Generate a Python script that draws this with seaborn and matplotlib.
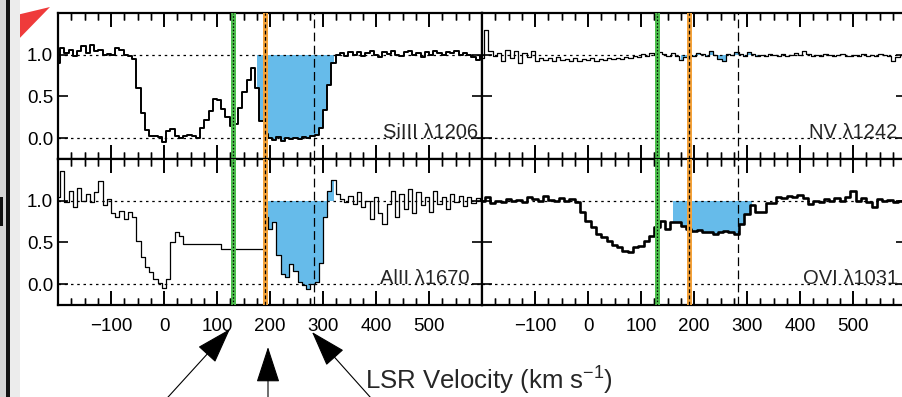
import numpy as np
import matplotlib
matplotlib.use("Agg")
import matplotlib.pyplot as plt
from matplotlib.patches import FancyArrowPatch, Polygon, Rectangle
from matplotlib.ticker import MultipleLocator, FixedLocator, FuncFormatter
import seaborn as sns

sns.set_style("ticks")
plt.rcParams.update({
    "font.family": ["Liberation Sans", "DejaVu Sans"],
    "mathtext.fontset": "custom",
    "mathtext.rm": "Liberation Sans",
    "mathtext.it": "Liberation Sans:italic",
    "xtick.direction": "in", "ytick.direction": "in",
    "xtick.top": True, "xtick.bottom": True,
    "ytick.left": True, "ytick.right": True,
    "xtick.major.size": 10, "xtick.minor.size": 5,
    "xtick.major.width": 1.2, "xtick.minor.width": 1.0,
    "ytick.major.size": 7, "ytick.major.width": 1.2,
    "xtick.color": "black", "ytick.color": "black",
    "xtick.labelsize": 13.5, "ytick.labelsize": 13.5,
    "xtick.major.pad": 9.5, "ytick.major.pad": 3.5,
    "axes.linewidth": 1.6, "axes.edgecolor": "black",
})

# ---------------------------------------------------------------- data
# velocity grids (km/s, LSR)
vel_fine = np.arange(-200, 601, 8)
vel_ovi = np.arange(-200, 601, 10)

# normalised flux, SiIII 1206
flux_si3 = [
    0.90, 1.08, 1.02, 1.06, 0.98, 1.04, 1.10, 1.02, 1.12, 1.04,
    1.06, 1.00, 1.01, 1.00, 1.08, 1.06, 1.00, 0.98, 0.95, 0.60,
    0.30, 0.10, 0.03, 0.02, 0.01, -0.05, 0.08, 0.11, 0.02, 0.00,
    0.02, 0.04, 0.03, 0.00, 0.12, 0.22, 0.33, 0.47, 0.46, 0.35,
    0.25, 0.15, 0.17, 0.36, 0.55, 0.70, 0.84, 0.60, 0.20, 0.05,
    0.00, -0.02, 0.01, -0.03, 0.00, -0.01, 0.00, -0.01, 0.01, 0.00,
    0.02, 0.04, 0.12, 0.34, 0.64, 0.90, 1.00, 1.02, 0.98, 1.03,
    1.00, 1.03, 0.99, 1.02, 1.04, 1.00, 0.97, 1.03, 1.01, 1.04,
    1.00, 0.99, 1.03, 1.05, 1.00, 1.02, 0.97, 1.03, 1.00, 1.04,
    1.02, 1.00, 1.03, 1.02, 1.05, 1.00, 1.02, 1.00, 0.97, 0.94,
    0.98,
]

# normalised flux, NV 1242
flux_n5 = [
    0.96, 1.30, 1.05, 0.98, 1.02, 0.92, 1.06, 0.96, 1.04, 0.90,
    1.02, 0.97, 1.04, 0.92, 0.96, 0.94, 0.96, 0.93, 0.97, 0.94,
    0.95, 0.92, 0.96, 0.93, 0.95, 0.94, 0.96, 0.93, 0.95, 0.94,
    0.96, 0.95, 0.96, 0.95, 0.97, 0.96, 0.98, 0.97, 1.01, 0.99,
    1.02, 1.00, 1.03, 1.01, 0.99, 1.02, 0.98, 0.94, 0.97, 1.00,
    0.98, 1.02, 1.01, 0.99, 1.04, 1.00, 0.95, 0.93, 1.01, 1.00,
    1.03, 1.01, 0.98, 1.03, 1.01, 0.98, 1.00, 0.99, 1.01, 1.00,
    0.98, 1.01, 0.99, 1.00, 1.02, 1.00, 1.04, 1.01, 0.99, 1.00,
    0.98, 1.01, 1.00, 0.98, 1.00, 1.01, 0.99, 0.98, 1.00, 0.99,
    1.01, 0.98, 1.00, 0.99, 1.01, 1.00, 0.99, 0.93, 0.97, 1.00,
    0.99,
]

# normalised flux, AlII 1670
flux_al2 = [
    1.05, 1.36, 0.98, 1.12, 0.92, 1.15, 1.00, 1.08, 0.98, 1.10,
    1.24, 0.95, 1.02, 0.85, 0.80, 0.88, 0.78, 0.86, 0.80, 0.52,
    0.32, 0.20, 0.14, 0.06, 0.01, -0.05, 0.06, 0.50, 0.62, 0.58,
    0.48, 0.48, 0.48, 0.48, 0.48, 0.48, 0.48, 0.48, 0.48, 0.42,
    0.42, 0.42, 0.42, 0.42, 0.42, 0.42, 0.42, 0.42, 0.42, 0.80,
    0.66, 0.74, 0.35, 0.12, 0.08, 0.24, 0.16, 0.02, -0.01, -0.06,
    0.00, 0.03, 0.25, 0.80, 1.12, 1.25, 1.08, 1.02, 0.98, 1.06,
    0.96, 1.10, 0.92, 1.00, 0.78, 1.05, 0.85, 0.72, 0.96, 1.12,
    0.80, 1.08, 0.90, 1.14, 0.85, 1.10, 0.95, 1.04, 0.86, 1.12,
    0.96, 1.05, 0.90, 1.08, 0.98, 1.06, 0.94, 1.04, 0.97, 1.03,
    1.00,
]

# normalised flux, OVI 1031
flux_o6 = [
    1.00, 1.04, 0.97, 1.00, 0.99, 1.02, 1.00, 1.01, 0.99, 1.04,
    1.02, 1.00, 1.06, 1.01, 1.00, 1.03, 1.00, 1.02, 0.98, 0.86,
    0.76, 0.68, 0.60, 0.56, 0.52, 0.47, 0.45, 0.40, 0.39, 0.44,
    0.46, 0.52, 0.58, 0.68, 0.76, 0.66, 0.74, 0.75, 0.70, 0.66,
    0.64, 0.65, 0.62, 0.63, 0.60, 0.62, 0.64, 0.62, 0.60, 0.72,
    0.84, 0.95, 0.87, 0.87, 0.97, 0.97, 1.04, 1.03, 1.06, 1.04,
    1.07, 1.03, 0.96, 1.00, 0.98, 1.02, 1.00, 1.03, 1.00, 1.05,
    1.12, 1.00, 1.03, 0.98, 0.92, 1.02, 1.00, 1.01, 0.99, 1.00,
    1.00,
]

ion_labels = ["SiIII \u03bb1206", "NV \u03bb1242", "AlII \u03bb1670", "OVI \u03bb1031"]
# velocity window of the shaded high-velocity absorption in each ion
shade_windows = [(172, 324), (172, 324), (188, 322), (160, 318)]

v_green = 130     # km/s
v_orange = 190    # km/s
v_dashed = 283    # km/s

x_ticks = [-200, -100, 0, 100, 200, 300, 400, 500, 600]
y_ticks = [0.0, 0.5, 1.0]


def vel_label(v, pos):
    # the panel edges (-200, 600) stay unlabelled
    if v <= -200 or v >= 600:
        return ""
    return f"{v:.0f}".replace("-", "\u2212")


# ---------------------------------------------------------------- figure
W, H = 902, 397
PANEL_H = 146  # panel height in pixels
fig = plt.figure(figsize=(W / 100, H / 100), dpi=100)


def px_box(x0, y0, x1, y1):
    """Axes rectangle given in pixel corners (y measured from the top)."""
    return [x0 / W, 1 - y1 / H, (x1 - x0) / W, (y1 - y0) / H]


axes = [
    fig.add_axes(px_box(58, 13, 482, 13 + PANEL_H)),
    fig.add_axes(px_box(482, 13, 906, 13 + PANEL_H)),
    fig.add_axes(px_box(58, 13 + PANEL_H, 482, 13 + 2 * PANEL_H)),
    fig.add_axes(px_box(482, 13 + PANEL_H, 906, 13 + 2 * PANEL_H)),
]

spectra = [
    (vel_fine, flux_si3, 1.4),
    (vel_fine, flux_n5, 0.9),
    (vel_fine, flux_al2, 0.9),
    (vel_ovi, flux_o6, 1.9),
]
label_right = [592, 584, 577, 585]

shade_color = "#66bbea"
green = "#4dbf4d"
orange = "#f4a23a"


def velocity_ticks(ax):
    """Inward velocity ticks on the top and bottom frame of a panel."""
    tr = ax.get_xaxis_transform()
    for locs, size, width in [(ax.xaxis.get_majorticklocs(), 10, 1.2),
                              (ax.xaxis.get_minorticklocs(), 5, 1.0)]:
        frac = size * (100 / 72) / PANEL_H
        for v in locs:
            if -200 <= v <= 600:
                for y0, y1 in ((0, frac), (1 - frac, 1)):
                    ax.plot([v, v], [y0, y1], transform=tr, color="black",
                            lw=width, solid_capstyle="butt", clip_on=False,
                            zorder=6)


for k, ax in enumerate(axes):
    vel, flux, lw = spectra[k]
    vel = np.asarray(vel)
    flux = np.asarray(flux)
    lo, hi = shade_windows[k]
    inside = (vel >= lo) & (vel <= hi)
    ax.fill_between(vel, flux, 1.0, where=inside, step="mid",
                    color=shade_color, lw=0, zorder=1)
    sns.lineplot(x=vel, y=flux, ax=ax, color="black", lw=lw,
                 drawstyle="steps-mid", estimator=None, sort=False, zorder=2)

    # continuum and zero level
    for yl in (0.0, 1.0):
        ax.axhline(yl, color="black", lw=0.9, ls=(0, (2, 3)), zorder=1.5)

    # component markers
    ax.axvline(v_green, color=green, lw=3.6, zorder=3)
    ax.axvline(v_green, color="black", lw=0.9, ls=(0, (1.2, 1.5)), zorder=3.1)
    ax.axvline(v_orange, color=orange, lw=3.6, zorder=3)
    ax.axvline(v_orange, color="black", lw=0.9, ls=(0, (3, 2)), zorder=3.1)
    ax.axvline(v_dashed, color="black", lw=0.9, ls=(0, (7, 3.5)), zorder=3)

    ax.text(label_right[k], 0.0, ion_labels[k], ha="right", va="baseline",
            fontsize=14.5, zorder=4)

    ax.set_xlim(-200, 600)
    ax.set_ylim(-0.25, 1.5)
    ax.xaxis.set_major_locator(FixedLocator(x_ticks))
    ax.xaxis.set_minor_locator(MultipleLocator(25))
    ax.xaxis.set_major_formatter(FuncFormatter(vel_label))
    ax.yaxis.set_major_locator(FixedLocator(y_ticks))
    ax.yaxis.set_major_formatter(FuncFormatter(lambda y, pos: f"{y:.1f}"))
    ax.tick_params(axis="x", which="both", direction="in", top=True, bottom=True,
                   labelbottom=(k >= 2))
    ax.tick_params(axis="y", which="major", direction="in", left=True, right=True,
                   labelleft=(k in (0, 2)))
    ax.set_xlabel("")
    ax.set_ylabel("")
    for sp in ax.spines.values():
        sp.set_visible(True)
    velocity_ticks(ax)

fig.text(365 / W, 1 - 390 / H, "LSR Velocity (km s$^{-1}$)",
         fontsize=18.5, ha="left", va="baseline")

# ---------------------------------------------------------------- callouts
def fpt(x, y):
    return (x / W, 1 - y / H)


for tail, tip in [((159, 407), (230, 329)),
                  ((268, 410), (268, 347)),
                  ((379, 407), (312, 332))]:
    fig.add_artist(FancyArrowPatch(fpt(*tail), fpt(*tip), transform=fig.transFigure,
                                   arrowstyle="-|>,head_length=2.3,head_width=0.75",
                                   mutation_scale=10, lw=0.8, color="black",
                                   shrinkA=0, shrinkB=0, clip_on=False))

fig.add_artist(Polygon([fpt(50, 7), fpt(0, 19), fpt(0, 34), fpt(13, 45)],
                       closed=True, transform=fig.transFigure,
                       facecolor="#ef3b3b", edgecolor="none"))

# window edge on the left
for (x0, wpx, col) in [(0, 6, "#d4d4d4"), (10, 10, "#ececec"), (6, 4, "#111111")]:
    fig.add_artist(Rectangle((x0 / W, 0), wpx / W, 1, transform=fig.transFigure,
                             facecolor=col, edgecolor="none"))
fig.add_artist(Rectangle(fpt(0, 226), 3 / W, 29 / H, transform=fig.transFigure,
                         facecolor="#111111", edgecolor="none"))

fig.canvas.draw()
fig.savefig("out.png", dpi=100)
